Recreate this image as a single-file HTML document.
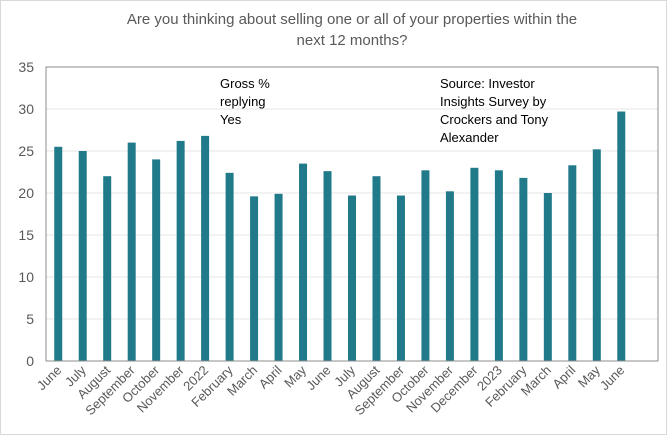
<!DOCTYPE html>
<html><head><meta charset="utf-8"><style>
body{margin:0;background:#fff}
svg{display:block;font-family:"Liberation Sans",sans-serif}
</style></head><body>
<svg width="667" height="435">
<rect x="0.5" y="0.5" width="666" height="434" fill="#fff" stroke="#d9d9d9"/>
<text x="352" y="24" text-anchor="middle" font-size="15" fill="#595959">Are you thinking about selling one or all of your properties within the</text>
<text x="352" y="45" text-anchor="middle" font-size="15" fill="#595959">next 12 months?</text>
<g id="grid"></g>
<g id="bars"></g>
<g id="yt"></g>
<g id="xt"></g>
<rect x="46" y="67" width="612" height="294" fill="none" stroke="#8c8c8c"/>
<text font-size="13" fill="#000"><tspan x="220" y="88">Gross %</tspan><tspan x="220" y="106">replying</tspan><tspan x="220" y="124">Yes</tspan></text>
<text font-size="13" fill="#000"><tspan x="440" y="88">Source: Investor</tspan><tspan x="440" y="106">Insights Survey by</tspan><tspan x="440" y="124">Crockers and Tony</tspan><tspan x="440" y="142">Alexander</tspan></text>
</svg>
<script>
const categories=["June","July","August","September","October","November","2022","February","March","April","May","June","July","August","September","October","November","December","2023","February","March","April","May","June"];
const values=[25.5,25.0,22.0,26.0,24.0,26.2,26.8,22.4,19.6,19.9,23.5,22.6,19.7,22.0,19.7,22.7,20.2,23.0,22.7,21.8,20.0,23.3,25.2,29.7];
const yTicks=[0,5,10,15,20,25,30,35];
const NS="http://www.w3.org/2000/svg";
const L=46,R=658,T=67,B=361,yMax=35,slots=25;
const y=v=>B-(v/yMax)*(B-T);
const step=(R-L)/slots;
const x=i=>L+step*(i+0.5);
function mk(t,a,p){const e=document.createElementNS(NS,t);for(const k in a)e.setAttribute(k,a[k]);document.getElementById(p).appendChild(e);return e;}
yTicks.forEach(v=>{
 if(v>0&&v<yMax){const g=mk('line',{x1:L,x2:R,y1:y(v),y2:y(v),stroke:'#e6e6e6'},'grid');
 
 }
 const t=mk('text',{x:34,y:y(v)+5,'text-anchor':'end','font-size':14,fill:'#595959'},'yt');
 t.textContent=v;
 
 
});
values.forEach((v,i)=>{
 const b=mk('rect',{x:x(i)-4,y:y(v),width:8,height:B-y(v),fill:'#217a8a'},'bars');
 
 
});
categories.forEach((c,i)=>{
 const t=mk('text',{x:x(i)+4,y:B+10,'text-anchor':'end','font-size':13,fill:'#595959',transform:`rotate(-45 ${x(i)+4} ${B+10})`},'xt');
 t.textContent=c;
 
 
});
</script>
</body></html>
